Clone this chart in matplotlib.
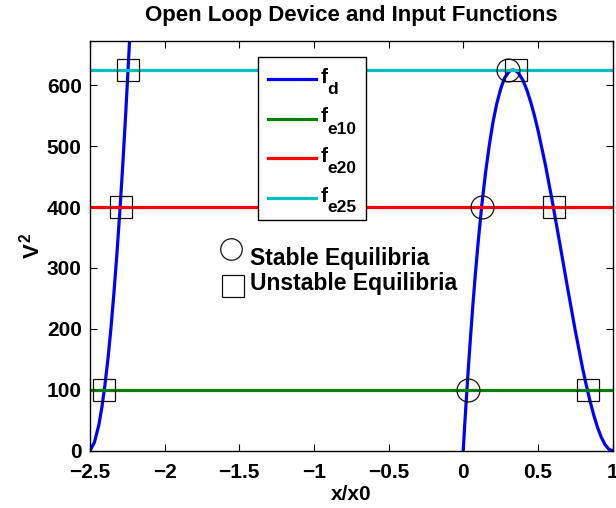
import matplotlib
matplotlib.use("Agg")
import matplotlib.pyplot as plt
from matplotlib.patches import Rectangle
from matplotlib.lines import Line2D

plt.rcParams['font.family'] = ['Liberation Sans', 'DejaVu Sans']
plt.rcParams['font.weight'] = 'bold'
plt.rcParams['mathtext.fontset'] = 'custom'
plt.rcParams['mathtext.rm'] = 'Liberation Sans:bold'
plt.rcParams['mathtext.it'] = 'Liberation Sans:bold'
plt.rcParams['mathtext.bf'] = 'Liberation Sans:bold'
plt.rcParams['axes.unicode_minus'] = True

# device function f_d, left branch
fd_left_x = [-2.50, -2.47, -2.44, -2.42, -2.40, -2.38, -2.36, -2.34, -2.32,
             -2.30, -2.28, -2.26, -2.24, -2.22]
fd_left_y = [0, 14, 43, 72, 108, 150, 200, 258, 322, 393, 471, 557, 649, 748]

# device function f_d, main hump between 0 and 1
fd_x = [0.0, 0.01, 0.02, 0.035, 0.05, 0.065, 0.08, 0.10, 0.125, 0.15, 0.175,
        0.20, 0.225, 0.25, 0.275, 0.30, 0.315, 0.333, 0.35, 0.37, 0.40, 0.425,
        0.45, 0.475, 0.50, 0.55, 0.60, 0.65, 0.70, 0.75, 0.80, 0.825, 0.85,
        0.875, 0.90, 0.925, 0.95, 0.975, 1.0]
fd_y = [0, 42, 81, 138, 190, 240, 286, 342, 404, 457, 502, 540, 570, 593,
        611, 620, 624, 625, 624, 620, 608, 593, 574, 552, 527, 470, 405, 336,
        266, 198, 135, 107, 81, 58, 38, 22, 10, 2.5, 0]

# input functions (constant levels V^2)
x_span = [-2.5, 1.0]
fe_levels = [100, 400, 625]
fe_subs = ['e10', 'e20', 'e25']
fe_colors = ['#008000', '#ff0000', '#00bfbf']
fd_color = '#0000ff'

# equilibrium points
stable_x = [0.03, 0.127, 0.297]
stable_y = [100, 400, 625]
unstable_x = [-2.403, 0.834, -2.290, 0.606, -2.244, 0.356]
unstable_y = [100, 100, 400, 400, 625, 625]

W, H = 616, 508
AX_L, AX_R, AX_T, AX_B = 90, 612.5, 40.7, 450.7

fig = plt.figure(figsize=(W / 100, H / 100), dpi=100)
ax = fig.add_axes([AX_L / W, (H - AX_B) / H, (AX_R - AX_L) / W,
                   (AX_B - AX_T) / H])


def axfrac(px, py):
    """Pixel position (from top-left of the figure) to axes fraction."""
    return (px - AX_L) / (AX_R - AX_L), (AX_B - py) / (AX_B - AX_T)


lw = 2.3
ax.plot(fd_left_x, fd_left_y, color=fd_color, lw=lw)
ax.plot(fd_x, fd_y, color=fd_color, lw=lw)
for lvl, col in zip(fe_levels, fe_colors):
    ax.plot(x_span, [lvl, lvl], color=col, lw=lw)

mk = dict(linestyle='none', mfc='none', mec='#111111', mew=0.9)
ax.plot(stable_x, stable_y, marker='o', ms=16.5, **mk)
ax.plot(unstable_x, unstable_y, marker='s', ms=16.5, **mk)

# marker key
ax.plot([-1.557], [331], marker='o', ms=15.5, **mk)
ax.plot([-1.540], [271], marker='s', ms=15.5, **mk)
ax.text(-1.431, 304.5, 'Stable Equilibria', fontsize=16.5, fontweight='bold',
        va='baseline', ha='left')
ax.text(-1.431, 263.5, 'Unstable Equilibria', fontsize=16.5, fontweight='bold',
        va='baseline', ha='left')

# legend box
x0, y0 = axfrac(258.3, 220.3)
x1, y1 = axfrac(365.7, 56.7)
ax.add_patch(Rectangle((x0, y0), x1 - x0, y1 - y0, transform=ax.transAxes,
                       facecolor='white', edgecolor='black', lw=1.0,
                       zorder=5))
leg_rows = [79.3, 118.7, 158.0, 197.7]
leg_colors = [fd_color] + fe_colors
leg_subs = ['d'] + fe_subs
for py, col, sub in zip(leg_rows, leg_colors, leg_subs):
    lx0, ly = axfrac(267.7, py)
    lx1, _ = axfrac(315.7, py)
    ax.add_line(Line2D([lx0, lx1], [ly, ly], transform=ax.transAxes,
                       color=col, lw=lw, zorder=6))
    fx, fy = axfrac(321.0, py + 3.8)
    ax.text(fx, fy, 'f', transform=ax.transAxes, fontsize=15,
            fontweight='bold', va='baseline', ha='left', zorder=7)
    sx, sy = axfrac(327.5, py + 14.8)
    ax.text(sx, sy, sub, transform=ax.transAxes, fontsize=12.5,
            fontweight='bold', va='baseline', ha='left', zorder=7)

ax.set_xlim(-2.5, 1.0)
ax.set_ylim(0, 673)
ax.set_xticks([-2.5, -2, -1.5, -1, -0.5, 0, 0.5, 1])
ax.set_xticklabels(['\u22122.5', '\u22122', '\u22121.5', '\u22121', '\u22120.5',
                    '0', '0.5', '1'])
ax.set_yticks([0, 100, 200, 300, 400, 500, 600])
ax.tick_params(direction='in', length=5, width=0.8, top=True, right=True,
               labelsize=15)
ax.tick_params(axis='x', pad=9)
ax.tick_params(axis='y', pad=6)
for lab in ax.get_xticklabels() + ax.get_yticklabels():
    lab.set_fontweight('bold')
for sp in ax.spines.values():
    sp.set_linewidth(1.0)

ax.set_title('Open Loop Device and Input Functions', fontsize=16,
             fontweight='bold', pad=14)
ax.set_xlabel('x/x0', fontsize=15, fontweight='bold', labelpad=2)
ax.set_ylabel(r'$V^{2}$', fontsize=16, labelpad=1.5)

fig.savefig('out.png', dpi=100)
